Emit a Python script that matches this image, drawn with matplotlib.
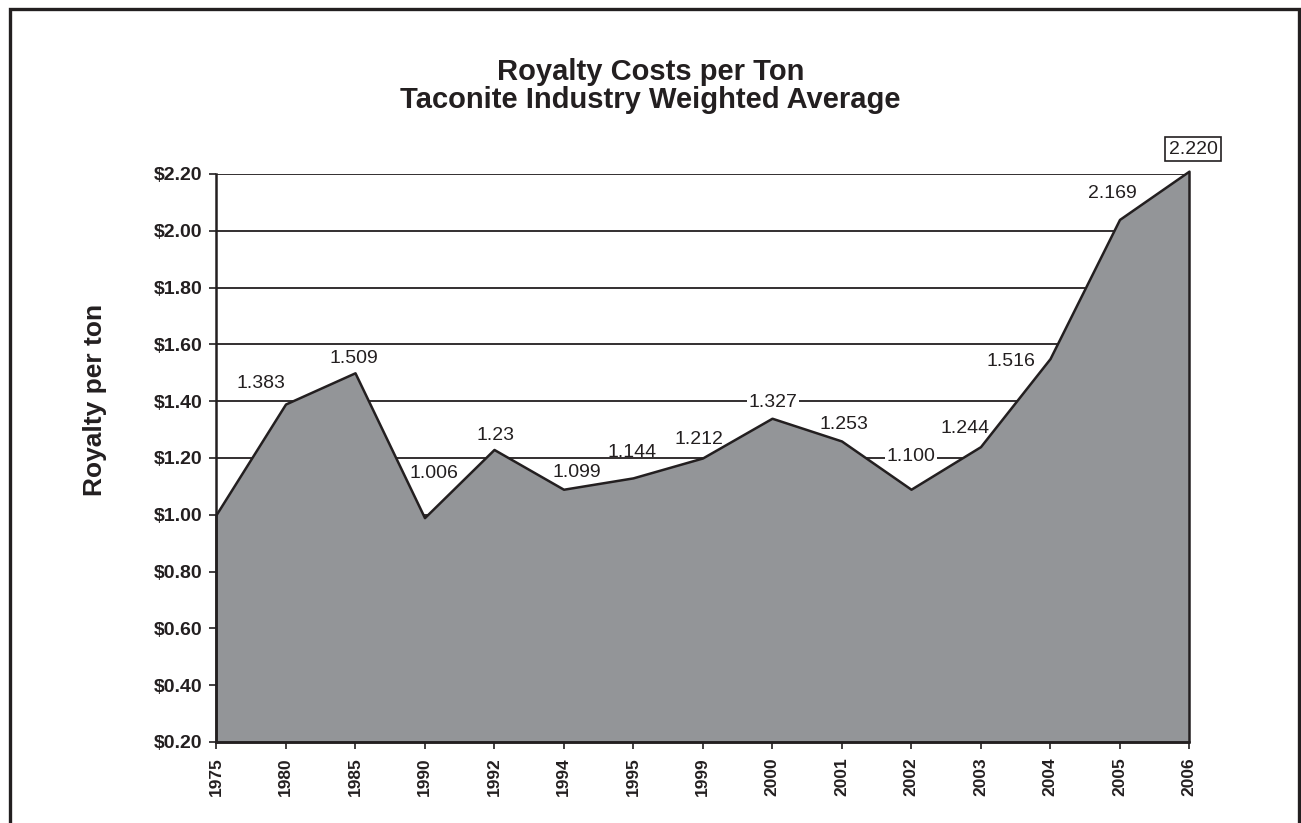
import numpy as np
import matplotlib.pyplot as plt
from matplotlib.patches import Rectangle

plt.rcParams['font.family'] = ['Liberation Sans', 'DejaVu Sans']

# Data
years = ['1975', '1980', '1985', '1990', '1992', '1994', '1995', '1999',
         '2000', '2001', '2002', '2003', '2004', '2005', '2006']
royalty = [1.00, 1.39, 1.50, 0.99, 1.23, 1.09, 1.13, 1.20,
           1.34, 1.26, 1.09, 1.24, 1.55, 2.04, 2.21]
point_labels = ['', '1.383', '1.509', '1.006', '1.23', '1.099', '1.144', '1.212',
                '1.327', '1.253', '1.100', '1.244', '1.516', '2.169', '2.220']

ink = '#231f20'
fill = '#939598'

# label offsets in pixels (dx, dy) from each point
offsets = [(0, 0), (-25, 21), (-1, 14), (9, 44), (1, 14), (13, 17), (-1, 25), (-4, 19),
           (1, 16), (2, 16), (0, 33), (-15, 18), (-39, -3), (-7, 26), (4, 22)]
white_bg = {'1.327', '1.100'}

fig = plt.figure(figsize=(13.01, 8.23), dpi=100)
ax = fig.add_axes([216 / 1301, 1 - 742 / 823, (1189 - 216) / 1301, (742 - 174) / 823])

x = np.arange(len(years))
ax.fill_between(x, 0.2, royalty, facecolor=fill, edgecolor=ink, linewidth=1.8,
                zorder=2, clip_on=False)

ax.set_xlim(0, len(years) - 1)
ax.set_ylim(0.2, 2.2)
ax.set_xticks(x)
ax.set_xticklabels(years, rotation=90, fontweight='bold', fontsize=12.5)
yt = np.arange(0.2, 2.21, 0.2)
ax.set_yticks(yt)
ax.set_yticklabels(['${:.2f}'.format(v) for v in yt], fontweight='bold', fontsize=14)
ax.tick_params(direction='out', length=5, width=1.2, color=ink, labelcolor=ink)
ax.tick_params(axis='y', pad=5)
ax.tick_params(axis='x', pad=6)

ax.grid(axis='y', color=ink, linewidth=1.3, zorder=1)
ax.set_axisbelow(True)
for s in ['top', 'right']:
    ax.spines[s].set_visible(False)
for s in ['left', 'bottom']:
    ax.spines[s].set_color(ink)
    ax.spines[s].set_linewidth(1.8)
    ax.spines[s].set_zorder(4)

# data labels
for xi, yi, lab, off in zip(x, royalty, point_labels, offsets):
    if not lab:
        continue
    bbox = None
    if lab in white_bg:
        bbox = dict(boxstyle='square,pad=0.1', fc='white', ec='none')
    if lab == point_labels[-1]:
        bbox = dict(boxstyle='square,pad=0.18', fc='white', ec=ink, lw=1.2)
    ax.annotate(lab, (xi, yi), xytext=off, textcoords='offset pixels',
                ha='center', va='center', fontsize=14, color=ink,
                bbox=bbox, zorder=5, annotation_clip=False)

# titles
fig.text(0.5, 1 - 86 / 823, 'Royalty Costs per Ton\nTaconite Industry Weighted Average',
         ha='center', va='center', fontsize=21, fontweight='bold', color=ink,
         linespacing=1.0)
fig.text(95 / 1301, 1 - 400 / 823, 'Royalty per ton', rotation=90, ha='center',
         va='center', fontsize=19, fontweight='bold', color=ink)

# outer frame
fig.patches.append(Rectangle((10 / 1301, -0.1), 1289 / 1301, 1.1 - 9 / 823,
                             transform=fig.transFigure, fill=False, ec=ink, lw=2.4))

fig.savefig('out.png', dpi=100)
